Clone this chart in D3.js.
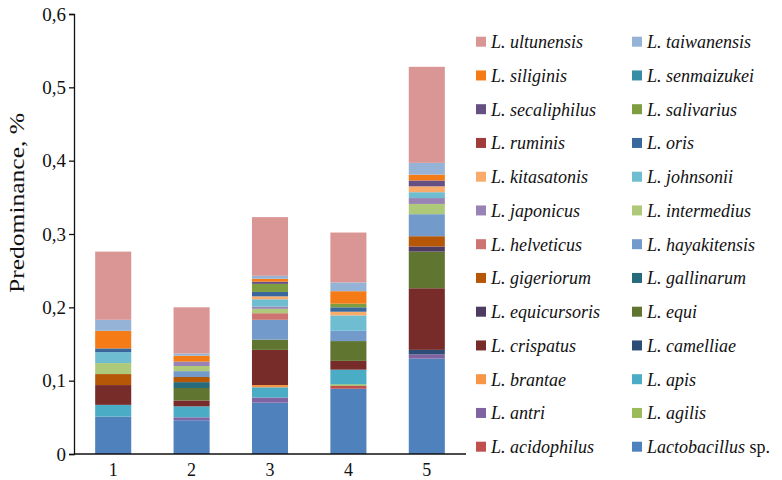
<!DOCTYPE html>
<html>
<head>
<meta charset="utf-8">
<script src="https://cdn.jsdelivr.net/npm/d3@7"></script>
<style>
  html, body { margin: 0; padding: 0; background: #fff; }
  svg text { font-family: "Liberation Serif", "LiberationSerif", "Tinos", "Times New Roman", "DejaVu Serif", "Noto Serif", serif; }
</style>
</head>
<body>
<svg id="chart" width="782" height="480"></svg>
<script>
// Samples along the x axis
const samples = ["1", "2", "3", "4", "5"];

// Species in stacking order (bottom to top)
const species = [
  "Lactobacillus sp.", "L. acidophilus", "L. agilis", "L. antri", "L. apis",
  "L. brantae", "L. camelliae", "L. crispatus", "L. equi", "L. equicursoris",
  "L. gallinarum", "L. gigeriorum", "L. hayakitensis", "L. helveticus", "L. intermedius",
  "L. japonicus", "L. johnsonii", "L. kitasatonis", "L. oris", "L. ruminis",
  "L. salivarius", "L. secaliphilus", "L. senmaizukei", "L. siliginis", "L. taiwanensis",
  "L. ultunensis"
];

// Predominance (%) of each species, one row per species, one column per sample
const predominance = [
  [0.051, 0.046, 0.070, 0.089, 0.130], // Lactobacillus sp.
  [0,     0,     0,     0.004, 0    ], // acidophilus
  [0,     0,     0,     0.002, 0    ], // agilis
  [0,     0.004, 0.007, 0,     0.006], // antri
  [0.016, 0.015, 0.014, 0.020, 0    ], // apis
  [0,     0,     0.003, 0,     0    ], // brantae
  [0,     0,     0,     0,     0.006], // camelliae
  [0.027, 0.008, 0.048, 0.012, 0.084], // crispatus
  [0,     0.017, 0.014, 0.027, 0.050], // equi
  [0,     0,     0,     0,     0.007], // equicursoris
  [0,     0.008, 0,     0,     0    ], // gallinarum
  [0.015, 0.007, 0,     0,     0.014], // gigeriorum
  [0,     0.008, 0.027, 0.014, 0.030], // hayakitensis
  [0,     0,     0.009, 0,     0    ], // helveticus
  [0.015, 0.007, 0.006, 0,     0.014], // intermedius
  [0,     0.006, 0.003, 0,     0.008], // japonicus
  [0.015, 0,     0.010, 0.021, 0.008], // johnsonii
  [0,     0,     0.004, 0.005, 0.008], // kitasatonis
  [0.005, 0,     0.006, 0.006, 0    ], // oris
  [0,     0,     0,     0,     0    ], // ruminis
  [0,     0,     0.011, 0.005, 0    ], // salivarius
  [0,     0,     0.003, 0,     0.008], // secaliphilus
  [0,     0,     0,     0,     0    ], // senmaizukei
  [0.024, 0.008, 0.004, 0.017, 0.008], // siliginis
  [0.015, 0.003, 0.004, 0.012, 0.016], // taiwanensis
  [0.093, 0.063, 0.080, 0.068, 0.131]  // ultunensis
];

// Y axis tick values
const yTicks = [0, 0.1, 0.2, 0.3, 0.4, 0.5, 0.6];

// Office-style series palette
const palette = [
  "#4F81BD", "#C0504D", "#9BBB59", "#8064A2", "#4BACC6", "#F79646",
  "#2C4D75", "#772C2A", "#5F7530", "#4D3B62", "#276A7C", "#B65708",
  "#729ACA", "#CD7371", "#AFC97A", "#9983B5", "#6FBDD1", "#F9AB6B",
  "#3A679C", "#9F3B38", "#7E9C40", "#664F83", "#358EA6", "#F47B16",
  "#95B3D7", "#D99694"
];

// Build per-sample rows for the stack layout
const rows = samples.map((s, j) => {
  const row = { sample: s };
  species.forEach((sp, i) => { row[sp] = predominance[i][j]; });
  return row;
});

const svg = d3.select("#chart");

const x = d3.scaleBand()
  .domain(samples)
  .range([74, 466])
  .paddingInner(0.54)
  .paddingOuter(0.27);

const y = d3.scaleLinear()
  .domain([0, 0.6])
  .range([454, 14]);

const color = d3.scaleOrdinal().domain(species).range(palette);

const stacked = d3.stack().keys(species)(rows);

// Stacked bars
svg.append("g")
  .selectAll("g")
  .data(stacked)
  .join("g")
    .attr("fill", d => color(d.key))
  .selectAll("rect")
  .data(d => d)
  .join("rect")
    .attr("x", d => x(d.data.sample))
    .attr("y", d => y(d[1]))
    .attr("width", x.bandwidth())
    .attr("height", d => y(d[0]) - y(d[1]));

const fmt = v => v === 0 ? "0" : d3.format(".1f")(v).replace(".", ",");

// Y axis
const yAxis = svg.append("g")
  .attr("transform", "translate(74,0)")
  .call(d3.axisLeft(y).tickValues(yTicks).tickFormat(fmt).tickSize(5).tickSizeOuter(5).tickPadding(3));
yAxis.attr("font-family", null);
yAxis.selectAll("text").attr("font-size", 19).attr("fill", "#111");
yAxis.selectAll("path, line").attr("stroke", "#111").attr("stroke-width", 1.3);

// X axis
const xAxis = svg.append("g")
  .attr("transform", "translate(0,454)")
  .call(d3.axisBottom(x).tickSize(0).tickSizeOuter(0).tickPadding(9));
xAxis.attr("font-family", null);
xAxis.select(".domain").attr("d", "M74,0H466");
xAxis.selectAll("text").attr("font-size", 18).attr("fill", "#111");
xAxis.selectAll("path").attr("stroke", "#111").attr("stroke-width", 1.3);

// Y axis title
svg.append("text")
  .attr("transform", "translate(24,203) rotate(-90)")
  .attr("text-anchor", "middle")
  .attr("font-size", 21)
  .attr("fill", "#111")
  .attr("textLength", 180)
  .attr("lengthAdjust", "spacingAndGlyphs")
  .text("Predominance, %");

// Legend: reversed order, two columns
const legendItems = species.slice().reverse();
const legend = svg.append("g");
const item = legend.selectAll("g")
  .data(legendItems)
  .join("g")
    .attr("transform", (d, i) => {
      const col = i % 2, row = Math.floor(i / 2);
      return `translate(${col === 0 ? 476 : 632},${41.7 + row * 33.75})`;
    });

item.append("rect")
  .attr("x", 0).attr("y", -5)
  .attr("width", 10).attr("height", 10)
  .attr("fill", d => color(d));

item.append("text")
  .attr("x", 15)
  .attr("dy", "0.35em")
  .attr("font-size", 18)
  .attr("fill", "#111")
  .each(function(d) {
    const t = d3.select(this);
    if (d === "Lactobacillus sp.") {
      t.append("tspan").attr("font-style", "italic").text("Lactobacillus");
      t.append("tspan").text(" sp.");
    } else {
      t.append("tspan").attr("font-style", "italic").text(d);
    }
  });
</script>
</body>
</html>
